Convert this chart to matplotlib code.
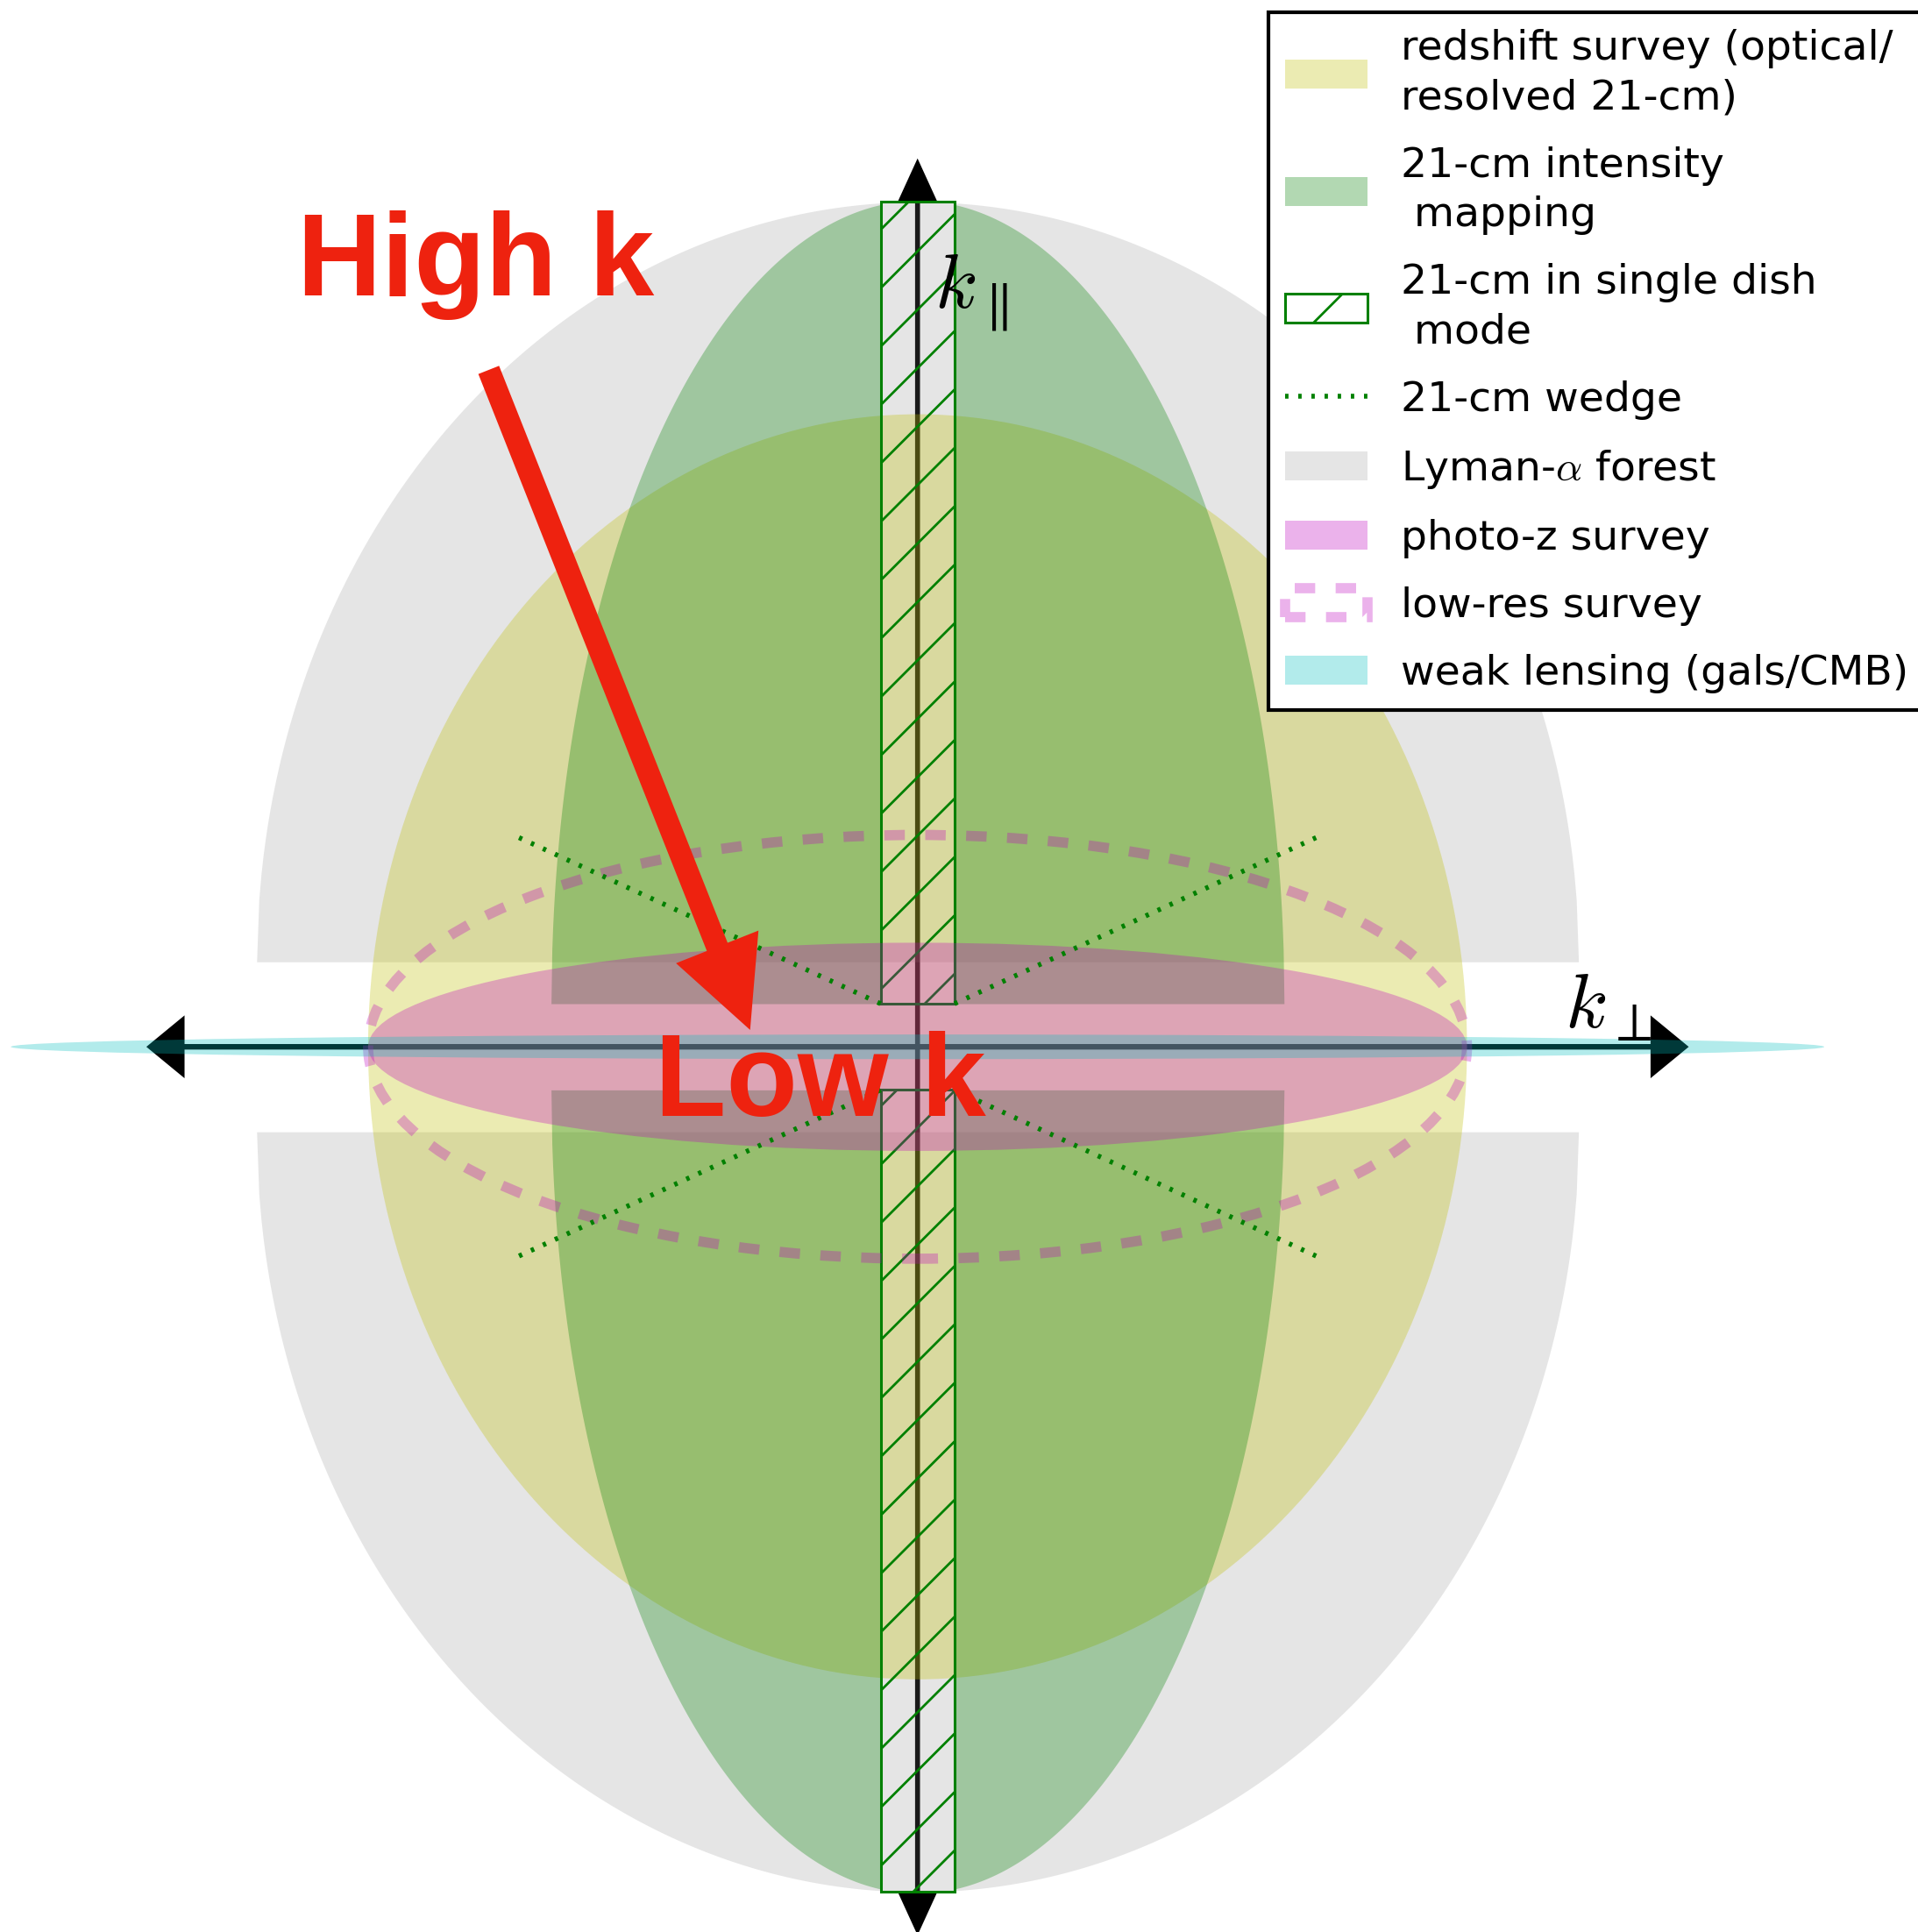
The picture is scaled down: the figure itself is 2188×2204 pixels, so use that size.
import numpy as np
import matplotlib
matplotlib.use("Agg")
import matplotlib.pyplot as plt
from matplotlib.patches import Ellipse, Rectangle

plt.rcParams["mathtext.fontset"] = "cm"
plt.rcParams["hatch.linewidth"] = 0.5

# ---- Survey footprints in the (k_perp, k_par) plane, arbitrary k units ----
# each footprint: (semi-axis along k_perp, semi-axis along k_par)
redshift_axes = (4.46, 5.135)
intensity_axes = (2.975, 6.52)
intensity_gap = 0.35            # low-k_par modes lost to foregrounds
lya_axes = (5.365, 6.17)
lya_gap = 0.69                  # low-k_par modes lost to continuum fitting
photoz_axes = (4.46, 0.845)
lowres_axes = (4.46, 1.72)
lensing_axes = (7.36, 0.10)
dish_halfwidth = 0.30           # single-dish k_perp reach
dish_kpar = (0.35, 6.86)
wedge_kperp = (0.30, 3.278)
wedge_kpar = (0.35, 1.718)
axis_reach = (6.26, 7.212)      # k_perp, k_par

labels = [
    "redshift survey (optical/\nresolved 21-cm)",
    "21-cm intensity\n mapping",
    "21-cm in single dish\n mode",
    "21-cm wedge",
    r"Lyman-$\alpha$ forest",
    "photo-z survey",
    "low-res survey",
    "weak lensing (gals/CMB)",
]

RED = "#ee220f"

fig = plt.figure(figsize=(5.47, 5.51), dpi=400)
ax = fig.add_axes([0, 0, 1, 1])
ax.set_xlim(-7.448, 8.121)
ax.set_ylim(-7.186, 8.498)
ax.axis("off")

# k axes with arrow heads at both ends
kx, ky = axis_reach
for s in (1, -1):
    ax.arrow(0, 0, s * kx, 0, width=0.045, head_width=0.51, head_length=0.31,
             length_includes_head=True, fc="k", ec="none", zorder=0.5)
    ax.arrow(0, 0, 0, s * ky, width=0.04, head_width=0.32, head_length=0.35,
             length_includes_head=True, fc="k", ec="none", zorder=0.5)


def half_height(x, a, b):
    return b * np.sqrt(np.clip(1.0 - (x / a) ** 2, 0.0, None))


# Lyman-alpha forest: two half-ellipses split around k_par = 0
a, b = lya_axes
x = np.linspace(-a, a, 600)
h = half_height(x, a, b)
lya = ax.fill_between(x, lya_gap, lya_gap + h, color="gray", alpha=0.2, lw=0, zorder=1)
ax.fill_between(x, -lya_gap, -lya_gap - h, color="gray", alpha=0.2, lw=0, zorder=1)

# spectroscopic redshift survey
redshift = Ellipse((0, 0), 2 * redshift_axes[0], 2 * redshift_axes[1],
                   color="y", alpha=0.3, lw=0, zorder=2)
ax.add_patch(redshift)

# 21-cm intensity mapping (interferometer: no modes inside the single-dish strip)
a, b = intensity_axes
im = None
for lo, hi in ((-a, -dish_halfwidth), (dish_halfwidth, a)):
    x = np.linspace(lo, hi, 400)
    h = half_height(x, a, b)
    for s in (1, -1):
        im = ax.fill_between(x, s * intensity_gap, s * (intensity_gap + h),
                             color="g", alpha=0.3, lw=0, zorder=3)

# 21-cm single dish strip
dish = None
for s in (1, -1):
    k0, k1 = dish_kpar
    y0 = k0 if s > 0 else -k1
    dish = Rectangle((-dish_halfwidth, y0), 2 * dish_halfwidth, k1 - k0,
                     fill=False, hatch="//", ec="g", lw=0.55, zorder=4)
    ax.add_patch(dish)

# photometric redshift survey
photoz = Ellipse((0, 0), 2 * photoz_axes[0], 2 * photoz_axes[1],
                 color="m", alpha=0.3, lw=0, zorder=5)
ax.add_patch(photoz)

# low-resolution spectroscopic survey
lowres = Ellipse((0, 0), 2 * lowres_axes[0], 2 * lowres_axes[1],
                 fill=False, ec="m", alpha=0.3, ls=(0, (2.0, 2.0)), lw=2.1, zorder=6)
ax.add_patch(lowres)

# 21-cm foreground wedge
wedge = None
for sx in (1, -1):
    for sy in (1, -1):
        wedge, = ax.plot(sx * np.array(wedge_kperp), sy * np.array(wedge_kpar),
                         color="g", ls=(0, (0.7, 2.0)), lw=1.0, zorder=7)

# weak lensing: k_par ~ 0 only
lensing = Ellipse((0, 0), 2 * lensing_axes[0], 2 * lensing_axes[1],
                  color="c", alpha=0.3, lw=0, zorder=8)
ax.add_patch(lensing)

# axis labels
ax.text(0.135, 5.995, r"$k_\parallel$", fontsize=16, ha="left", va="baseline", zorder=9)
ax.text(5.254, 0.149, r"$k_\perp$", fontsize=16, ha="left", va="baseline", zorder=9)

# annotation
ax.arrow(-3.481, 5.495, 2.122, -5.358, width=0.181, head_width=0.72,
         head_length=0.725, length_includes_head=True, fc=RED, ec="none", zorder=10)
ax.text(-5.036, 6.102, "High k", fontsize=24, fontweight="bold",
        family="Liberation Sans", color=RED, ha="left", va="baseline", zorder=11)
ax.text(-2.133, -0.561, "Low k", fontsize=24, fontweight="bold",
        family="Liberation Sans", color=RED, ha="left", va="baseline", zorder=11)

handles = [redshift, im, dish, wedge, lya, photoz, lowres, lensing]
leg = ax.legend(handles, labels, loc="upper left",
                bbox_to_anchor=(1447 / 2188, 1 - 14 / 2204),
                bbox_transform=fig.transFigure, borderaxespad=0,
                fancybox=False, edgecolor="k", framealpha=1,
                fontsize=8.5, handlelength=2.0, labelspacing=0.68)
for t in leg.get_texts():
    t.set_linespacing(1.33)
leg.get_frame().set_linewidth(0.75)
leg.set_zorder(20)

fig.savefig("out.png", dpi=400)
